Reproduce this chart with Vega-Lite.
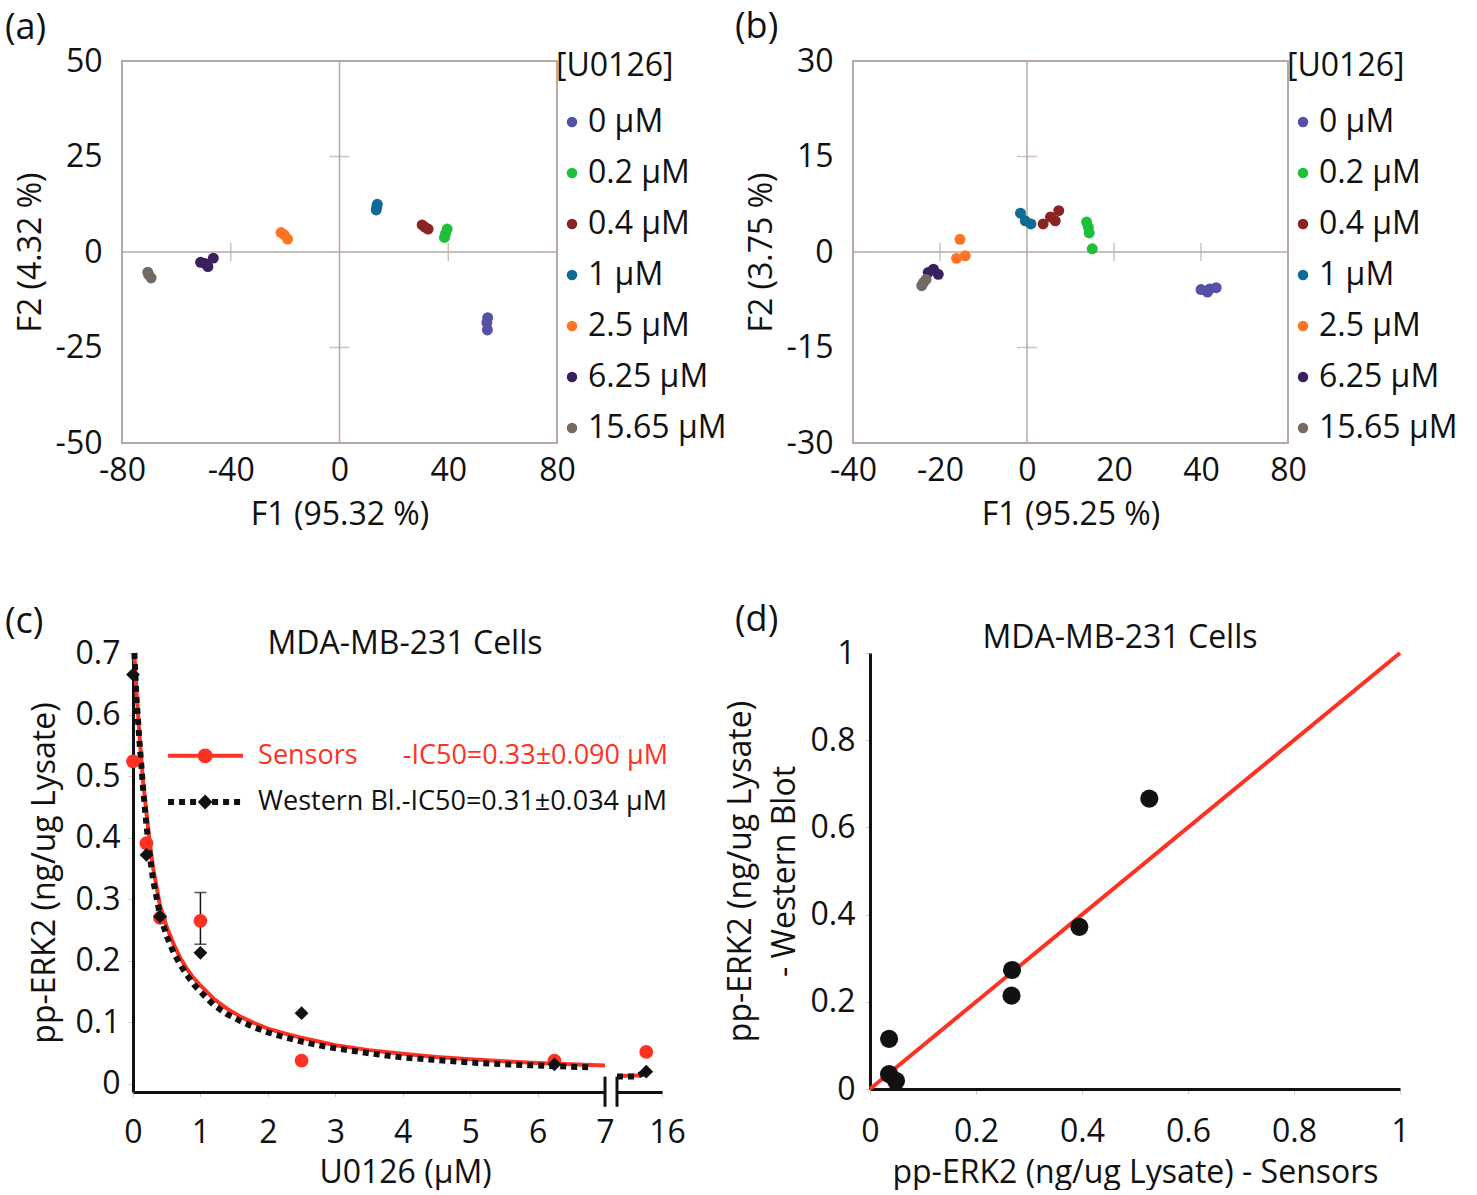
{
  "$schema": "https://vega.github.io/schema/vega-lite/v6.json",
  "background": "white",
  "padding": {"left": 5, "top": 8, "right": 2, "bottom": 2},
  "config": {
    "font": "Open Sans",
    "view": {"stroke": null},
    "axis": {"labelFont": "Open Sans", "titleFont": "Open Sans", "labelFontSize": 32, "titleFontSize": 32, "titleFontWeight": "normal", "labelColor": "#111", "titleColor": "#111", "grid": false, "labelFlush": false, "labelOverlap": false},
    "legend": {"labelFont": "Open Sans", "titleFont": "Open Sans", "labelFontSize": 32, "titleFontSize": 32, "titleFontWeight": "normal", "labelColor": "#111", "titleColor": "#111", "symbolType": "circle", "symbolSize": 110, "rowPadding": 19, "titlePadding": 23, "labelOffset": 0},
    "title": {"font": "Open Sans", "fontWeight": "normal", "color": "#111"}
  },
  "datasets": {
    "pcaA": [
      {"conc": "0 μM", "F1": 54.5, "F2": -17.2}, {"conc": "0 μM", "F1": 54.2, "F2": -18.5}, {"conc": "0 μM", "F1": 54.4, "F2": -20.4},
      {"conc": "0.2 μM", "F1": 39.6, "F2": 6.0}, {"conc": "0.2 μM", "F1": 39.0, "F2": 4.8}, {"conc": "0.2 μM", "F1": 38.6, "F2": 3.8},
      {"conc": "0.4 μM", "F1": 30.4, "F2": 7.1}, {"conc": "0.4 μM", "F1": 31.4, "F2": 6.5}, {"conc": "0.4 μM", "F1": 32.6, "F2": 6.0},
      {"conc": "1 μM", "F1": 13.9, "F2": 12.5}, {"conc": "1 μM", "F1": 13.7, "F2": 11.8}, {"conc": "1 μM", "F1": 13.5, "F2": 11.0},
      {"conc": "2.5 μM", "F1": -21.5, "F2": 5.1}, {"conc": "2.5 μM", "F1": -20.3, "F2": 4.5}, {"conc": "2.5 μM", "F1": -19.1, "F2": 3.4},
      {"conc": "6.25 μM", "F1": -46.4, "F2": -1.6}, {"conc": "6.25 μM", "F1": -51.1, "F2": -2.7}, {"conc": "6.25 μM", "F1": -48.4, "F2": -3.8}, {"conc": "6.25 μM", "F1": -49.5, "F2": -3.0},
      {"conc": "15.65 μM", "F1": -70.5, "F2": -5.3}, {"conc": "15.65 μM", "F1": -69.3, "F2": -6.8}, {"conc": "15.65 μM", "F1": -70.2, "F2": -5.9}
    ],
    "pcaB": [
      {"conc": "0 μM", "F1": 40.0, "F2": -5.9}, {"conc": "0 μM", "F1": 41.5, "F2": -6.3}, {"conc": "0 μM", "F1": 43.5, "F2": -5.6}, {"conc": "0 μM", "F1": 42.0, "F2": -5.8},
      {"conc": "0.2 μM", "F1": 13.7, "F2": 4.7}, {"conc": "0.2 μM", "F1": 14.1, "F2": 3.9}, {"conc": "0.2 μM", "F1": 14.3, "F2": 3.0}, {"conc": "0.2 μM", "F1": 15.0, "F2": 0.5},
      {"conc": "0.4 μM", "F1": 3.7, "F2": 4.4}, {"conc": "0.4 μM", "F1": 5.4, "F2": 5.5}, {"conc": "0.4 μM", "F1": 7.3, "F2": 6.5}, {"conc": "0.4 μM", "F1": 6.5, "F2": 4.9},
      {"conc": "1 μM", "F1": -1.5, "F2": 6.1}, {"conc": "1 μM", "F1": -0.4, "F2": 4.9}, {"conc": "1 μM", "F1": 0.9, "F2": 4.4},
      {"conc": "2.5 μM", "F1": -15.4, "F2": 2.0}, {"conc": "2.5 μM", "F1": -16.2, "F2": -1.0}, {"conc": "2.5 μM", "F1": -14.2, "F2": -0.6},
      {"conc": "6.25 μM", "F1": -21.5, "F2": -2.7}, {"conc": "6.25 μM", "F1": -20.4, "F2": -3.5}, {"conc": "6.25 μM", "F1": -22.7, "F2": -3.2},
      {"conc": "15.65 μM", "F1": -23.8, "F2": -4.8}, {"conc": "15.65 μM", "F1": -24.2, "F2": -5.3}, {"conc": "15.65 μM", "F1": -23.2, "F2": -4.3}
    ],
    "fit": [
      {"s": "Sensors", "x": 0.02, "y": 0.70}, {"s": "Sensors", "x": 0.05, "y": 0.64}, {"s": "Sensors", "x": 0.1, "y": 0.56}, {"s": "Sensors", "x": 0.15, "y": 0.49}, {"s": "Sensors", "x": 0.2, "y": 0.44}, {"s": "Sensors", "x": 0.25, "y": 0.39}, {"s": "Sensors", "x": 0.3, "y": 0.35}, {"s": "Sensors", "x": 0.4, "y": 0.29}, {"s": "Sensors", "x": 0.5, "y": 0.255}, {"s": "Sensors", "x": 0.6, "y": 0.228}, {"s": "Sensors", "x": 0.7, "y": 0.205}, {"s": "Sensors", "x": 0.8, "y": 0.187}, {"s": "Sensors", "x": 0.9, "y": 0.172}, {"s": "Sensors", "x": 1.0, "y": 0.16}, {"s": "Sensors", "x": 1.2, "y": 0.138}, {"s": "Sensors", "x": 1.4, "y": 0.122}, {"s": "Sensors", "x": 1.6, "y": 0.109}, {"s": "Sensors", "x": 1.8, "y": 0.099}, {"s": "Sensors", "x": 2.0, "y": 0.09}, {"s": "Sensors", "x": 2.25, "y": 0.082}, {"s": "Sensors", "x": 2.5, "y": 0.075}, {"s": "Sensors", "x": 2.75, "y": 0.069}, {"s": "Sensors", "x": 3.0, "y": 0.063}, {"s": "Sensors", "x": 3.5, "y": 0.055}, {"s": "Sensors", "x": 4.0, "y": 0.049}, {"s": "Sensors", "x": 4.5, "y": 0.044}, {"s": "Sensors", "x": 5.0, "y": 0.04}, {"s": "Sensors", "x": 5.5, "y": 0.037}, {"s": "Sensors", "x": 6.0, "y": 0.034}, {"s": "Sensors", "x": 6.5, "y": 0.032}, {"s": "Sensors", "x": 7.0, "y": 0.030},
      {"s": "Sensors", "x": 15.0, "y": 0.013}, {"s": "Sensors", "x": 15.5, "y": 0.014},
      {"s": "Western", "x": 0.02, "y": 0.70}, {"s": "Western", "x": 0.05, "y": 0.63}, {"s": "Western", "x": 0.1, "y": 0.55}, {"s": "Western", "x": 0.15, "y": 0.48}, {"s": "Western", "x": 0.2, "y": 0.42}, {"s": "Western", "x": 0.25, "y": 0.37}, {"s": "Western", "x": 0.3, "y": 0.33}, {"s": "Western", "x": 0.4, "y": 0.275}, {"s": "Western", "x": 0.5, "y": 0.24}, {"s": "Western", "x": 0.6, "y": 0.214}, {"s": "Western", "x": 0.7, "y": 0.194}, {"s": "Western", "x": 0.8, "y": 0.177}, {"s": "Western", "x": 0.9, "y": 0.162}, {"s": "Western", "x": 1.0, "y": 0.15}, {"s": "Western", "x": 1.2, "y": 0.128}, {"s": "Western", "x": 1.4, "y": 0.113}, {"s": "Western", "x": 1.6, "y": 0.102}, {"s": "Western", "x": 1.8, "y": 0.092}, {"s": "Western", "x": 2.0, "y": 0.084}, {"s": "Western", "x": 2.25, "y": 0.076}, {"s": "Western", "x": 2.5, "y": 0.069}, {"s": "Western", "x": 2.75, "y": 0.063}, {"s": "Western", "x": 3.0, "y": 0.058}, {"s": "Western", "x": 3.5, "y": 0.05}, {"s": "Western", "x": 4.0, "y": 0.043}, {"s": "Western", "x": 4.5, "y": 0.039}, {"s": "Western", "x": 5.0, "y": 0.035}, {"s": "Western", "x": 5.5, "y": 0.032}, {"s": "Western", "x": 6.0, "y": 0.03}, {"s": "Western", "x": 6.5, "y": 0.028}, {"s": "Western", "x": 6.82, "y": 0.027},
      {"s": "Western", "x": 15.0, "y": 0.012}, {"s": "Western", "x": 15.4, "y": 0.012}, {"s": "Western", "x": 15.65, "y": 0.019}
    ],
    "pts": [
      {"s": "Sensors", "x": 0, "y": 0.524}, {"s": "Sensors", "x": 0.2, "y": 0.391}, {"s": "Sensors", "x": 0.4, "y": 0.27}, {"s": "Sensors", "x": 1, "y": 0.265}, {"s": "Sensors", "x": 2.5, "y": 0.038}, {"s": "Sensors", "x": 6.25, "y": 0.038}, {"s": "Sensors", "x": 15.65, "y": 0.052},
      {"s": "Western", "x": 0, "y": 0.665}, {"s": "Western", "x": 0.2, "y": 0.372}, {"s": "Western", "x": 0.4, "y": 0.272}, {"s": "Western", "x": 1, "y": 0.213}, {"s": "Western", "x": 2.5, "y": 0.115}, {"s": "Western", "x": 6.25, "y": 0.032}, {"s": "Western", "x": 15.65, "y": 0.02}
    ],
    "err": [{"x": 1, "lo": 0.227, "hi": 0.311}],
    "corr": [
      {"sensor": 0.036, "western": 0.115}, {"sensor": 0.036, "western": 0.034}, {"sensor": 0.049, "western": 0.019}, {"sensor": 0.267, "western": 0.214}, {"sensor": 0.268, "western": 0.273}, {"sensor": 0.395, "western": 0.372}, {"sensor": 0.527, "western": 0.666}
    ],
    "identity": [{"sensor": 0, "western": 0}, {"sensor": 1, "western": 1}]
  },
  "resolve": {"scale": {"color": "independent"}, "legend": {"color": "independent"}},
  "spacing": 70,
  "vconcat": [
    {
      "hconcat": [
        {"width": 1, "height": 1, "data": {"values": [{}]}, "mark": {"type": "point", "opacity": 0}, "title": {"text": "(a)", "anchor": "start", "frame": "group", "fontSize": 36, "dx": -116, "offset": -5, "baseline": "middle"}},
        {
          "width": 435, "height": 382,
          "view": {"stroke": "#b6a9a3", "strokeWidth": 2},
          "layer": [
            {"data": {"values": [{}]}, "mark": {"type": "rule", "color": "#b6a9a3", "strokeWidth": 1.5}, "encoding": {"x": {"datum": 0, "type": "quantitative", "scale": {"domain": [-80, 80], "nice": false}}}},
            {"data": {"values": [{}]}, "mark": {"type": "rule", "color": "#b6a9a3", "strokeWidth": 1.5}, "encoding": {"y": {"datum": 0, "type": "quantitative", "scale": {"domain": [-50, 50], "nice": false}}}},
            {"data": {"values": [{"tx": -40, "ty": 0}, {"tx": 40, "ty": 0}]}, "mark": {"type": "tick", "orient": "vertical", "color": "#b6a9a3", "size": 18, "thickness": 1.5}, "encoding": {"x": {"field": "tx", "type": "quantitative"}, "y": {"field": "ty", "type": "quantitative"}}},
            {"data": {"values": [{"tx": 0, "ty": 25}, {"tx": 0, "ty": -25}]}, "mark": {"type": "tick", "orient": "horizontal", "color": "#b6a9a3", "size": 20, "thickness": 1.5}, "encoding": {"x": {"field": "tx", "type": "quantitative"}, "y": {"field": "ty", "type": "quantitative"}}},
            {
              "data": {"name": "pcaA"},
              "mark": {"type": "circle", "size": 120, "opacity": 1},
              "encoding": {
                "x": {"field": "F1", "type": "quantitative", "scale": {"domain": [-80, 80], "nice": false}, "axis": {"title": "F1 (95.32 %)", "values": [-80, -40, 0, 40, 80], "labelExpr": "datum.value < 0 ? '-' + abs(datum.value) : datum.label", "domain": false, "ticks": false, "labelPadding": 12, "titlePadding": 13}},
                "y": {"field": "F2", "type": "quantitative", "scale": {"domain": [-50, 50], "nice": false}, "axis": {"title": "F2 (4.32 %)", "values": [-50, -25, 0, 25, 50], "labelExpr": "datum.value < 0 ? '-' + abs(datum.value) : datum.label", "domain": false, "ticks": false, "labelPadding": 20, "titlePadding": 8}},
                "color": {"field": "conc", "type": "nominal", "title": "[U0126]", "legend": {"orient": "none", "legendX": 434, "legendY": -10}, "scale": {"domain": ["0 μM", "0.2 μM", "0.4 μM", "1 μM", "2.5 μM", "6.25 μM", "15.65 μM"], "range": ["#5451a6", "#1dbf3b", "#8a2323", "#0f6b96", "#ff7424", "#3b2060", "#736a64"]}}
              }
            }
          ]
        },
        {"width": 296, "height": 1, "data": {"values": [{}]}, "mark": {"type": "point", "opacity": 0}, "title": {"text": "(b)", "anchor": "start", "frame": "group", "fontSize": 36, "dx": 178, "offset": -4, "baseline": "middle"}},
        {
          "width": 435, "height": 382,
          "view": {"stroke": "#b6a9a3", "strokeWidth": 2},
          "layer": [
            {"data": {"values": [{}]}, "mark": {"type": "rule", "color": "#b6a9a3", "strokeWidth": 1.5}, "encoding": {"x": {"datum": 0, "type": "quantitative", "scale": {"domain": [-40, 60], "nice": false}}}},
            {"data": {"values": [{}]}, "mark": {"type": "rule", "color": "#b6a9a3", "strokeWidth": 1.5}, "encoding": {"y": {"datum": 0, "type": "quantitative", "scale": {"domain": [-30, 30], "nice": false}}}},
            {"data": {"values": [{"tx": -20, "ty": 0}, {"tx": 20, "ty": 0}, {"tx": 40, "ty": 0}]}, "mark": {"type": "tick", "orient": "vertical", "color": "#b6a9a3", "size": 18, "thickness": 1.5}, "encoding": {"x": {"field": "tx", "type": "quantitative"}, "y": {"field": "ty", "type": "quantitative"}}},
            {"data": {"values": [{"tx": 0, "ty": 15}, {"tx": 0, "ty": -15}]}, "mark": {"type": "tick", "orient": "horizontal", "color": "#b6a9a3", "size": 20, "thickness": 1.5}, "encoding": {"x": {"field": "tx", "type": "quantitative"}, "y": {"field": "ty", "type": "quantitative"}}},
            {
              "data": {"name": "pcaB"},
              "mark": {"type": "circle", "size": 120, "opacity": 1},
              "encoding": {
                "x": {"field": "F1", "type": "quantitative", "scale": {"domain": [-40, 60], "nice": false}, "axis": {"title": "F1 (95.25 %)", "values": [-40, -20, 0, 20, 40, 60], "labelExpr": "datum.value == 60 ? '80' : (datum.value < 0 ? '-' + abs(datum.value) : datum.label)", "domain": false, "ticks": false, "labelPadding": 12, "titlePadding": 13}},
                "y": {"field": "F2", "type": "quantitative", "scale": {"domain": [-30, 30], "nice": false}, "axis": {"title": "F2 (3.75 %)", "values": [-30, -15, 0, 15, 30], "labelExpr": "datum.value < 0 ? '-' + abs(datum.value) : datum.label", "domain": false, "ticks": false, "labelPadding": 20, "titlePadding": 8}},
                "color": {"field": "conc", "type": "nominal", "title": "[U0126]", "legend": {"orient": "none", "legendX": 434, "legendY": -10}, "scale": {"domain": ["0 μM", "0.2 μM", "0.4 μM", "1 μM", "2.5 μM", "6.25 μM", "15.65 μM"], "range": ["#5451a6", "#1dbf3b", "#8a2323", "#0f6b96", "#ff7424", "#3b2060", "#736a64"]}}
              }
            }
          ]
        }
      ],
      "spacing": 0,
      "bounds": "flush",
      "resolve": {"scale": {"color": "independent"}, "legend": {"color": "independent"}}
    },
    {
      "hconcat": [
        {"width": 12, "height": 1, "data": {"values": [{}]}, "mark": {"type": "point", "opacity": 0}, "title": {"text": "(c)", "anchor": "start", "frame": "group", "fontSize": 36, "dx": -116, "offset": -7, "baseline": "middle"}},
        {
          "width": 472, "height": 439,
          "title": {"text": "MDA-MB-231 Cells", "anchor": "middle", "frame": "group", "fontSize": 32, "dx": 36, "offset": -49, "baseline": "alphabetic"},
          "layer": [
            {"data": {"name": "fit"}, "transform": [{"filter": "datum.s == 'Sensors' && datum.x <= 7"}], "mark": {"type": "line", "color": "#fe3223", "strokeWidth": 4},
              "encoding": {
                "x": {"field": "x", "type": "quantitative", "scale": {"domain": [0, 7], "nice": false}, "axis": {"title": "U0126 (μM)", "values": [0, 1, 2, 3, 4, 5, 6, 7], "format": "~g", "domainColor": "#111", "domainWidth": 3, "tickColor": "#cccccc", "tickSize": 5, "labelPadding": 20, "titlePadding": 9, "titleX": 272}},
                "y": {"field": "y", "type": "quantitative", "scale": {"domain": [-0.013, 0.7], "nice": false}, "axis": {"title": "pp-ERK2 (ng/ug Lysate)", "values": [0, 0.1, 0.2, 0.3, 0.4, 0.5, 0.6, 0.7], "format": "~g", "domainColor": "#111", "domainWidth": 3, "tickColor": "#cccccc", "tickSize": 5, "labelPadding": 8, "titlePadding": 14}}
              }},
            {"data": {"name": "fit"}, "transform": [{"filter": "datum.s == 'Western' && datum.x <= 7"}], "mark": {"type": "line", "color": "#111", "strokeWidth": 6, "strokeDash": [6, 5], "strokeCap": "butt"},
              "encoding": {"x": {"field": "x", "type": "quantitative"}, "y": {"field": "y", "type": "quantitative"}}},
            {"data": {"name": "err"}, "mark": {"type": "rule", "color": "#111", "strokeWidth": 1.5}, "encoding": {"x": {"field": "x", "type": "quantitative"}, "y": {"field": "lo", "type": "quantitative"}, "y2": {"field": "hi"}}},
            {"data": {"name": "err"}, "mark": {"type": "tick", "orient": "horizontal", "color": "#111", "size": 12, "thickness": 1.5}, "encoding": {"x": {"field": "x", "type": "quantitative"}, "y": {"field": "hi", "type": "quantitative"}}},
            {"data": {"name": "err"}, "mark": {"type": "tick", "orient": "horizontal", "color": "#111", "size": 12, "thickness": 1.5}, "encoding": {"x": {"field": "x", "type": "quantitative"}, "y": {"field": "lo", "type": "quantitative"}}},
            {"data": {"name": "pts"}, "transform": [{"filter": "datum.s == 'Sensors' && datum.x <= 7"}], "mark": {"type": "point", "shape": "circle", "filled": true, "opacity": 1, "color": "#fe3223", "size": 190}, "encoding": {"x": {"field": "x", "type": "quantitative"}, "y": {"field": "y", "type": "quantitative"}}},
            {"data": {"name": "pts"}, "transform": [{"filter": "datum.s == 'Western' && datum.x <= 7"}], "mark": {"type": "point", "shape": "diamond", "filled": true, "opacity": 1, "color": "#111", "size": 190}, "encoding": {"x": {"field": "x", "type": "quantitative"}, "y": {"field": "y", "type": "quantitative"}}},
            {"data": {"values": [{}]}, "mark": {"type": "rule", "color": "#fe3223", "strokeWidth": 4}, "encoding": {"x": {"datum": 0.52}, "x2": {"datum": 1.63}, "y": {"datum": 0.533}}},
            {"data": {"values": [{}]}, "mark": {"type": "point", "shape": "circle", "filled": true, "opacity": 1, "color": "#fe3223", "size": 220}, "encoding": {"x": {"datum": 1.07}, "y": {"datum": 0.533}}},
            {"data": {"values": [{}]}, "mark": {"type": "rule", "color": "#111", "strokeWidth": 6, "strokeDash": [6, 5], "strokeCap": "butt"}, "encoding": {"x": {"datum": 0.52}, "x2": {"datum": 1.63}, "y": {"datum": 0.458}}},
            {"data": {"values": [{}]}, "mark": {"type": "point", "shape": "diamond", "filled": true, "opacity": 1, "color": "#111", "size": 220}, "encoding": {"x": {"datum": 1.07}, "y": {"datum": 0.458}}},
            {"data": {"values": [{}]}, "mark": {"type": "text", "align": "left", "baseline": "middle", "fontSize": 27, "color": "#fe3223"}, "encoding": {"x": {"datum": 1.855}, "y": {"datum": 0.533}, "text": {"value": "Sensors"}}},
            {"data": {"values": [{}]}, "mark": {"type": "text", "align": "left", "baseline": "middle", "fontSize": 27, "color": "#fe3223"}, "encoding": {"x": {"datum": 4.0}, "y": {"datum": 0.533}, "text": {"value": "-IC50=0.33±0.090 μM"}}},
            {"data": {"values": [{}]}, "mark": {"type": "text", "align": "left", "baseline": "middle", "fontSize": 27, "color": "#111"}, "encoding": {"x": {"datum": 1.855}, "y": {"datum": 0.458}, "text": {"value": "Western Bl.-IC50=0.31±0.034 μM"}}},
            {"data": {"values": [{}]}, "mark": {"type": "rule", "color": "#111", "strokeWidth": 3}, "encoding": {"x": {"datum": 7}, "y": {"datum": -0.037}, "y2": {"datum": 0.012}}}
          ]
        },
        {"width": 12, "height": 1, "data": {"values": [{}]}, "mark": {"type": "point", "opacity": 0}},
        {
          "width": 45, "height": 439,
          "layer": [
            {"data": {"name": "fit"}, "transform": [{"filter": "datum.s == 'Sensors' && datum.x >= 15"}], "mark": {"type": "line", "color": "#fe3223", "strokeWidth": 4},
              "encoding": {
                "x": {"field": "x", "type": "quantitative", "scale": {"domain": [15, 16], "nice": false}, "axis": {"title": null, "values": [16], "format": "~g", "domainColor": "#111", "domainWidth": 3, "tickColor": "#cccccc", "tickSize": 5, "labelPadding": 20, "labelOffset": 5}},
                "y": {"field": "y", "type": "quantitative", "scale": {"domain": [-0.013, 0.7], "nice": false}, "axis": null}
              }},
            {"data": {"name": "fit"}, "transform": [{"filter": "datum.s == 'Western' && datum.x >= 15"}], "mark": {"type": "line", "color": "#111", "strokeWidth": 6, "strokeDash": [6, 5], "strokeCap": "butt"},
              "encoding": {"x": {"field": "x", "type": "quantitative"}, "y": {"field": "y", "type": "quantitative"}}},
            {"data": {"name": "pts"}, "transform": [{"filter": "datum.s == 'Sensors' && datum.x >= 15"}], "mark": {"type": "point", "shape": "circle", "filled": true, "opacity": 1, "color": "#fe3223", "size": 190}, "encoding": {"x": {"field": "x", "type": "quantitative"}, "y": {"field": "y", "type": "quantitative"}}},
            {"data": {"name": "pts"}, "transform": [{"filter": "datum.s == 'Western' && datum.x >= 15"}], "mark": {"type": "point", "shape": "diamond", "filled": true, "opacity": 1, "color": "#111", "size": 190}, "encoding": {"x": {"field": "x", "type": "quantitative"}, "y": {"field": "y", "type": "quantitative"}}},
            {"data": {"values": [{}]}, "mark": {"type": "rule", "color": "#111", "strokeWidth": 3}, "encoding": {"x": {"datum": 15}, "y": {"datum": -0.037}, "y2": {"datum": 0.012}}}
          ]
        },
        {"width": 208, "height": 1, "data": {"values": [{}]}, "mark": {"type": "point", "opacity": 0}, "title": {"text": "(d)", "anchor": "start", "frame": "group", "fontSize": 36, "dx": 73, "offset": -5, "baseline": "middle"}},
        {
          "width": 530, "height": 436,
          "title": {"text": "MDA-MB-231 Cells", "anchor": "middle", "frame": "group", "fontSize": 32, "dx": -15, "offset": -43, "baseline": "alphabetic"},
          "layer": [
            {"data": {"name": "identity"}, "mark": {"type": "line", "color": "#fe3223", "strokeWidth": 4},
              "encoding": {
                "x": {"field": "sensor", "type": "quantitative", "scale": {"domain": [0, 1], "nice": false}, "axis": {"title": "pp-ERK2 (ng/ug Lysate) - Sensors", "values": [0, 0.2, 0.4, 0.6, 0.8, 1], "format": "~g", "domainColor": "#111", "domainWidth": 3, "tickColor": "#cccccc", "tickSize": 5, "labelPadding": 22, "titlePadding": 10}},
                "y": {"field": "western", "type": "quantitative", "scale": {"domain": [0, 1], "nice": false}, "axis": {"title": ["pp-ERK2 (ng/ug Lysate)", "- Western Blot"], "titleLineHeight": 44, "values": [0, 0.2, 0.4, 0.6, 0.8, 1], "format": "~g", "domainColor": "#111", "domainWidth": 3, "tickColor": "#cccccc", "tickSize": 5, "labelPadding": 10, "titlePadding": 9}}
              }},
            {"data": {"name": "corr"}, "mark": {"type": "point", "shape": "circle", "filled": true, "opacity": 1, "color": "#111", "size": 330},
              "encoding": {"x": {"field": "sensor", "type": "quantitative"}, "y": {"field": "western", "type": "quantitative"}}}
          ]
        }
      ],
      "spacing": 0,
      "bounds": "flush"
    }
  ]
}
